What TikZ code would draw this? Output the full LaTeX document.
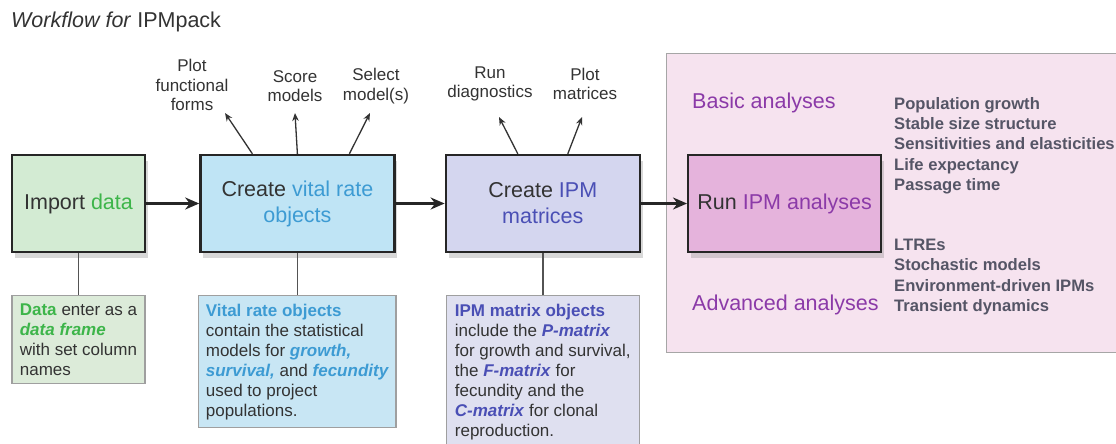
\documentclass[tikz,border=0pt]{standalone}
\usepackage{fontspec}
\setmainfont{Liberation Sans}
\usetikzlibrary{arrows.meta,positioning,shadows}
\definecolor{txtdark}{HTML}{333333}
\definecolor{listgray}{HTML}{555566}
\definecolor{datagreen}{HTML}{3DB54A}
\definecolor{vrblue}{HTML}{3D9BD3}
\definecolor{ipmblue}{HTML}{4A4FB5}
\definecolor{anpurple}{HTML}{8B3AA8}
\definecolor{impfill}{HTML}{D3EBD3}
\definecolor{vrfill}{HTML}{BFE4F5}
\definecolor{ipmfill}{HTML}{D4D6EF}
\definecolor{anfill}{HTML}{E5B3DC}
\definecolor{panelfill}{HTML}{F6E3EF}
\definecolor{impdfill}{HTML}{DCEBD9}
\definecolor{vrdfill}{HTML}{C8E6F4}
\definecolor{ipmdfill}{HTML}{DFE0F0}

\begin{document}
\begin{tikzpicture}[
    x=1pt, y=-1pt,
    mainbox/.style={draw=black!85, line width=2.4pt, minimum height=97pt, align=center,
      text=txtdark, font=\fontsize{21.5}{26}\selectfont,
      drop shadow={shadow xshift=3pt, shadow yshift=-6pt, opacity=0.3}},
    descbox/.style={draw=gray!75, line width=1.2pt, align=left, inner xsep=7pt, inner ysep=8pt,
      text=txtdark, font=\fontsize{17}{20}\selectfont},
    toplbl/.style={align=center, inner sep=0pt, text=txtdark, font=\fontsize{17}{19.5}\selectfont},
    secttitle/.style={inner sep=0pt, text=anpurple, font=\fontsize{21.5}{26}\selectfont},
    listtxt/.style={align=left, inner sep=0pt, text=listgray, font=\bfseries\fontsize{16.6}{20.3}\selectfont},
    flowarr/.style={-{Stealth[length=14pt, width=12pt]}, line width=3pt, draw=black!85},
    uparr/.style={-{Stealth[length=8pt, width=6.5pt]}, line width=1.3pt, draw=txtdark},
    link/.style={draw=gray!65!black, line width=1.4pt}
  ]
    \fill[white] (0,0) rectangle (1116,444);
    \useasboundingbox (0,0) rectangle (1116,444);

    \node[anchor=west, inner sep=0pt, text=txtdark, font=\fontsize{21.5}{26}\selectfont] (title) at (11,22)
      {\textit{Workflow for} IPMpack};

    % analyses panel
    \draw[draw=gray!70, fill=panelfill, line width=1pt] (666,54) rectangle (1120,352);

    % main workflow
    \node[mainbox, fill=impfill, minimum width=133pt] (imp) at (78.5,203.5) {Import \textcolor{datagreen}{data}};
    \node[mainbox, fill=vrfill, minimum width=194pt, right=53pt of imp] (vr)
      {Create \textcolor{vrblue}{vital rate}\\\textcolor{vrblue}{objects}};
    \node[mainbox, fill=ipmfill, minimum width=194pt, right=49pt of vr] (ipm)
      {Create \textcolor{ipmblue}{IPM}\\\textcolor{ipmblue}{matrices}};
    \node[mainbox, fill=anfill, minimum width=193pt, right=46pt of ipm] (an)
      {Run \textcolor{anpurple}{IPM analyses}};
    \draw[flowarr] (imp) -- (vr);
    \draw[flowarr] (vr) -- (ipm);
    \draw[flowarr] (ipm) -- (an);

    % side tasks
    \node[toplbl] (pf) at (192,85) {Plot\\functional\\forms};
    \node[toplbl] (sm) at (295,86) {Score\\models};
    \node[toplbl] (sel) at (376,86) {Select\\model(s)};
    \node[toplbl] (rd) at (490,84) {Run\\diagnostics};
    \node[toplbl] (pm) at (585,84) {Plot\\matrices};
    \coordinate (pfTip) at (225,113);
    \coordinate (smTip) at (295,113);
    \coordinate (selTip) at (370,113);
    \coordinate (rdTip) at (499,117);
    \coordinate (pmTip) at (582,117);
    \draw[uparr] ([xshift=-45pt]vr.north) -- (pfTip);
    \draw[uparr] (vr.north) -- (smTip);
    \draw[uparr] ([xshift=52pt]vr.north) -- (selTip);
    \draw[uparr] ([xshift=-25pt]ipm.north) -- (rdTip);
    \draw[uparr] ([xshift=25pt]ipm.north) -- (pmTip);

    % descriptions
    \node[descbox, fill=impdfill, minimum width=133pt, below=42pt of imp] (impd)
      {\textcolor{datagreen}{\textbf{Data}} enter as a\\
       \textcolor{datagreen}{\textbf{\textit{data frame}}}\\
       with set column\\
       names};
    \node[descbox, fill=vrdfill, minimum width=194pt, below=42pt of vr] (vrd)
      {\textcolor{vrblue}{\textbf{Vital rate objects}}\\
       contain the statistical\\
       models for \textcolor{vrblue}{\textbf{\textit{growth,}}}\\
       \textcolor{vrblue}{\textbf{\textit{survival,}}} and \textcolor{vrblue}{\textbf{\textit{fecundity}}}\\
       used to project\\
       populations.};
    \node[descbox, fill=ipmdfill, minimum width=193pt, below=42pt of ipm] (ipmd)
      {\textcolor{ipmblue}{\textbf{IPM matrix objects}}\\
       include the \textcolor{ipmblue}{\textbf{\textit{P-matrix}}}\\
       for growth and survival,\\
       the \textcolor{ipmblue}{\textbf{\textit{F-matrix}}} for\\
       fecundity and the\\
       \textcolor{ipmblue}{\textbf{\textit{C-matrix}}} for clonal\\
       reproduction.};
    \draw[link] (imp) -- (impd);
    \draw[link] (vr) -- (vrd);
    \draw[link] (ipm) -- (ipmd);

    % analyses lists
    \node[secttitle, anchor=west] (basic) at (692,103) {Basic analyses};
    \node[secttitle, anchor=west] (adv) at (692,305) {Advanced analyses};
    \node[listtxt, anchor=north west] (basiclist) at (894,97)
      {Population growth\\Stable size structure\\Sensitivities and elasticities\\Life expectancy\\Passage time};
    \node[listtxt, anchor=north west] (advlist) at (894,239)
      {LTREs\\Stochastic models\\Environment-driven IPMs\\Transient dynamics};
  \end{tikzpicture}
\end{document}
